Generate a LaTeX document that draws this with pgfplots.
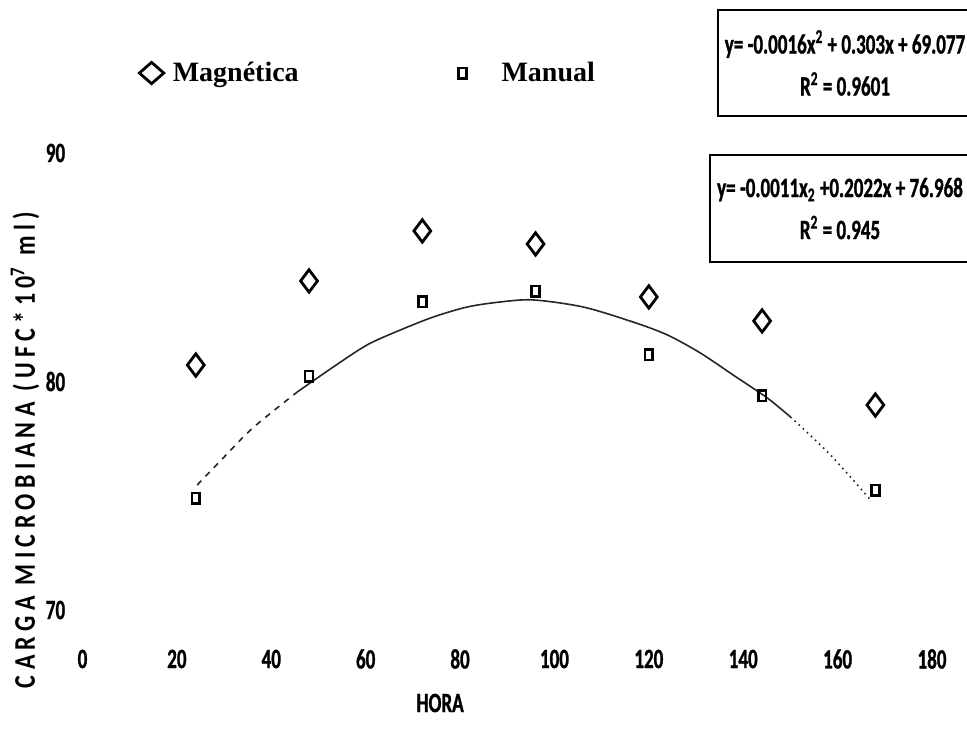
\documentclass[border=0pt]{standalone}
\usepackage{pgfplots}
\pgfplotsset{compat=1.18}
\usepackage{fontspec}
\setmainfont{Liberation Serif}
\newfontfamily\cond[FakeStretch=0.68,FakeBold=1]{Carlito}
\newfontfamily\lab[FakeStretch=0.8,LetterSpace=18]{Carlito}

\pgfplotstableread{
x y
24 80.72
48 84.40
72 86.59
96 86.02
120 83.70
144 82.65
168 78.97
}\magtable
\pgfplotstableread{
x y
24 74.90
48 80.24
72 83.48
96 83.96
120 81.16
144 79.37
168 75.25
}\mantable

\begin{document}
\begin{tikzpicture}
\useasboundingbox (0,0) rectangle (483.5pt,-371pt);
\begin{axis}[
  at={(41.25pt,-305pt)}, anchor=south west,
  scale only axis, width=424.75pt, height=228.5pt,
  xmin=0, xmax=180, ymin=70, ymax=90,
  xtick={0,20,...,180}, ytick={70,80,90},
  axis line style={draw=none}, tick style={draw=none},
  clip=false,
  /pgf/number format/assume math mode=true,
  ticklabel style={font=\cond\bfseries\fontsize{14}{14}\selectfont},
  xticklabel style={anchor=center, yshift=-24.5pt},
  yticklabel style={anchor=center, xshift=-13.5pt},
  xlabel={HORA},
  xlabel style={font=\cond\bfseries\fontsize{14}{14}\selectfont, at={(axis description cs:0.421,-0.2035)}, anchor=center},
  ylabel={CARGA MICROBIANA (UFC*10\textsuperscript{7} ml)},
  ylabel style={font=\lab\bfseries\fontsize{15}{15}\selectfont, at={(axis description cs:-0.0677,0.35)}, anchor=center},
  legend columns=2,
  legend style={draw=none, fill=none, at={(axis description cs:0.0665,1.175)}, anchor=west,
    inner sep=0pt, font=\bfseries\fontsize{14}{14}\selectfont,
    /tikz/every even column/.append style={column sep=78pt}},
  legend cell align=left,
]
\addplot[black!85, line width=0.8pt, dashed, smooth, forget plot] coordinates {
(24.3,75.47)(29.8,76.65)(36.1,77.97)(45.5,79.54)};
\addplot[black!85, line width=0.8pt, smooth, forget plot] coordinates {
(45.5,79.54)(53.1,80.63)(60.3,81.60)(67.3,82.25)(74.3,82.82)(81.5,83.26)(88.5,83.48)(95.5,83.57)(106.1,83.26)(116.7,82.60)(123.9,82.04)(130.9,81.25)(137.9,80.28)(145.1,79.28)(150.0,78.45)};
\addplot[black!85, line width=0.8pt, dotted, smooth, forget plot] coordinates {
(150.0,78.45)(158.5,76.78)(167.0,74.81)};
\addplot[only marks, mark=diamond, mark size=5.6pt, mark options={black, line width=1.4pt, fill=white},
  legend image post style={every mark/.append style={xscale=1.45, yscale=0.95}}] table[x=x,y=y] {\magtable};
\addlegendentry{\hspace{2.5pt}Magnética}
\addplot[only marks, mark=square, mark size=2.6pt, mark options={black, line width=1.3pt, fill=white, xscale=0.75}] table[x=x,y=y] {\mantable};
\addlegendentry{\hspace{15.5pt}Manual}
\end{axis}
\node[draw, line width=1pt, minimum width=118pt, minimum height=53pt, align=center,
  font=\cond\bfseries\fontsize{14}{16}\selectfont] at (422.5pt,-31.5pt)
  {y= -0.0016x\textsuperscript{2} + 0.303x + 69.077\\[5pt] R\textsuperscript{2} = 0.9601};
\node[draw, line width=1pt, minimum width=123pt, minimum height=53.5pt, align=center,
  font=\cond\bfseries\fontsize{14}{16}\selectfont] at (420pt,-104.25pt)
  {y= -0.0011x\textsubscript{2} +0.2022x + 76.968\\[5pt] R\textsuperscript{2} = 0.945};
\end{tikzpicture}
\end{document}
